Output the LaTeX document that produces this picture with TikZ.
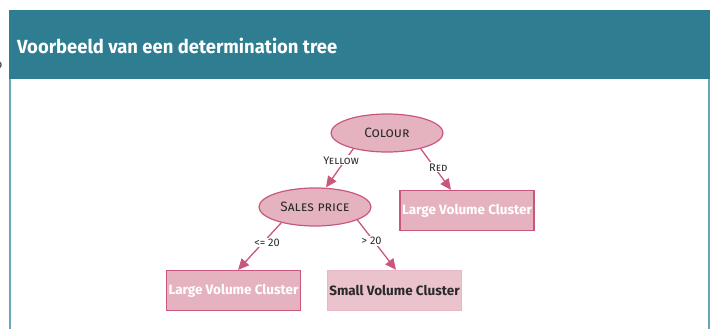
\documentclass[tikz,border=0pt]{standalone}
\usepackage{fontspec}
\setmainfont{Fira Sans}
\usetikzlibrary{arrows.meta,shapes.geometric}
\definecolor{headteal}{HTML}{2E7D91}
\definecolor{frameteal}{HTML}{6AA7B6}
\definecolor{rosefill}{HTML}{E5B3C0}
\definecolor{roseline}{HTML}{C9577C}
\definecolor{palefill}{HTML}{EBC3CD}
\definecolor{paleline}{HTML}{E9B7C4}
\definecolor{textdark}{HTML}{2A2A2A}
\tikzset{
  decision/.style={ellipse, draw=roseline, fill=rosefill, line width=1.2pt,
    minimum width=112pt, minimum height=38pt, inner sep=0pt,
    font=\fontsize{13.5}{15}\selectfont\scshape, text=textdark},
  leafbox/.style={rectangle, draw=roseline, fill=rosefill, line width=1.2pt,
    minimum width=134pt, minimum height=40pt, inner sep=0pt,
    font=\fontsize{13.5}{15}\selectfont\bfseries, text=white},
  paleleaf/.style={leafbox, draw=paleline, fill=palefill, text=textdark},
  branch/.style={draw=roseline, line width=1.3pt,
    -{Triangle[length=11pt,width=10pt]}},
  cond/.style={fill=white, inner sep=1pt, text=textdark,
    font=\fontsize{11}{13}\selectfont\scshape}
}
\begin{document}
\begin{tikzpicture}[x=1pt,y=-1pt]
  \useasboundingbox (0,0) rectangle (715,329);
  % panel frame and title bar
  \draw[frameteal, line width=1.2pt] (10,79) -- (10,335);
  \draw[frameteal, line width=1.2pt] (709,79) -- (709,335);
  \fill[headteal] (9,10) rectangle (710,79);
  \node[anchor=west, text=white, inner sep=0pt,
    font=\fontsize{19}{22}\selectfont\bfseries\addfontfeature{FakeStretch=0.97}]
    (title) at (17,46) {Voorbeeld van een determination tree};
  \node[anchor=center, inner sep=0pt, text=textdark,
    font=\fontsize{12}{14}\selectfont] (stray) at (-1,65) {o};
  % tree
  \node[decision] (colour) at (387,133) {Colour};
  \node[decision] (price) at (315,207) {Sales price};
  \node[leafbox] (largeR) at (467,210.5) {Large Volume Cluster};
  \node[leafbox] (largeL) at (233.5,290.5) {Large Volume Cluster};
  \node[paleleaf] (small) at (394.5,290.5) {Small Volume Cluster};
  \draw[branch] (colour.205) -- node[cond, pos=0.3, xshift=-4pt] {Yellow} (price.north -| 326,0);
  \draw[branch] (colour.335) -- node[cond, pos=0.45, xshift=4pt] {Red} (largeR.north -| 451,0);
  \draw[branch] (price.205) -- node[cond, pos=0.42, xshift=4pt] {<= 20} (largeL.north -| 238,0);
  \draw[branch] (price.343) -- node[cond, pos=0.42, xshift=-2pt] {> 20} (small.north -| 396,0);
\end{tikzpicture}
\end{document}
